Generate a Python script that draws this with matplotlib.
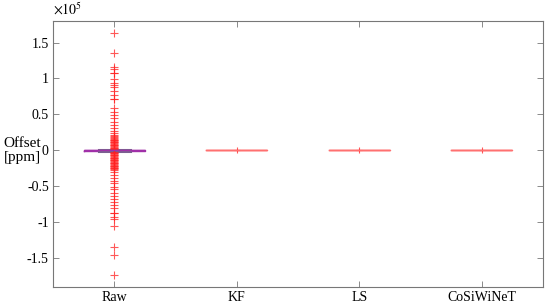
import matplotlib
matplotlib.use('Agg')
import matplotlib.pyplot as plt
from matplotlib.ticker import FuncFormatter

# Categories and outliers (ppm)
methods = ['Raw', 'KF', 'LS', 'CoSiWiNeT']
raw_outliers = [163000, 135000, 116000, 113000, 108000, 107000, 99000, 94000,
                91000, 87500, 83000, 77000, 72000, 71000, 59000, 54000, 49000,
                45000, 40000, 36000, 31000, 27000, 24000, 22000, 20000, 18000,
                17000, 16000, 15000, 14000, 13000, 12000, 11000, 10000, 9000,
                8000, 7000, 6000, 5000, 4000, 3000, 2000,
                -2000, -3000, -4000, -5000, -6000, -7000, -8000, -9000,
                -10000, -11000, -12000, -13000, -14000, -15000, -16000,
                -17000, -18000, -19000, -20000, -21000, -22000, -23000,
                -24000, -25000, -26000, -27000, -30000, -34000,
                -38500, -42000, -46000, -50500, -54000, -59000, -63500, -67000,
                -72000, -76000, -80000, -86500, -87500, -92000, -95000,
                -105000, -134000, -145000, -173000]
medians = [0, 0, 0, 0]
q1 = [-800, 0, 0, 0]
q3 = [800, 0, 0, 0]
other_outliers = [[], [0], [0], [0]]
yticks = [-150000, -100000, -50000, 0, 50000, 100000, 150000]

plt.rcParams['font.family'] = ['Liberation Serif', 'DejaVu Serif']
plt.rcParams['mathtext.fontset'] = 'stix'
plt.rcParams['axes.unicode_minus'] = False

fig = plt.figure(figsize=(5.5, 3.08), dpi=100)
ax = fig.add_axes([0.0964, 0.068, 0.8906, 0.864])

stats = []
for i, name in enumerate(methods):
    fliers = raw_outliers if i == 0 else other_outliers[i]
    stats.append(dict(label=name, med=medians[i], q1=q1[i], q3=q3[i],
                      whislo=q1[i], whishi=q3[i], fliers=fliers))

flier_style = dict(marker='+', markeredgecolor='#ff2020', markersize=5.5,
                   markeredgewidth=0.8, alpha=0.75, linestyle='none')

# Raw box, drawn in MATLAB-like overlapped colours
ax.bxp(stats[:1], positions=[1], widths=0.5, capwidths=0.25,
       boxprops=dict(color='#a030a8', linewidth=1),
       medianprops=dict(color='#a030a8', linewidth=1),
       whiskerprops=dict(color='#707070', linewidth=1),
       capprops=dict(color='#7a6090', linewidth=2.2),
       flierprops=flier_style)
ax.bxp(stats[1:], positions=[2, 3, 4], widths=0.5, showcaps=False,
       boxprops=dict(color='#ff7070', linewidth=1),
       medianprops=dict(color='#ff7070', linewidth=1),
       whiskerprops=dict(color='#ff7070', linewidth=1),
       flierprops=dict(flier_style, markersize=5))

ax.set_xlim(0.5, 4.5)
ax.set_ylim(-190000, 180000)
ax.set_xticks([1, 2, 3, 4])
ax.set_xticklabels(methods)
ax.set_yticks(yticks)
ax.yaxis.set_major_formatter(FuncFormatter(lambda v, p: '%g' % (v / 1e5)))

for s in ax.spines.values():
    s.set_color('#777777')
    s.set_linewidth(0.8)
ax.tick_params(direction='in', length=4, width=0.6, color='#777777',
               labelsize=10, top=True, right=True, pad=3)

ax.text(0.0, 1.012, r'$\times10^5$', transform=ax.transAxes, fontsize=10,
        ha='left', va='bottom')
fig.text(0.041, 0.512, 'Offset\n[ppm]', fontsize=11, ha='center',
         va='center', linespacing=1.05)

fig.savefig('out.png', dpi=100)
